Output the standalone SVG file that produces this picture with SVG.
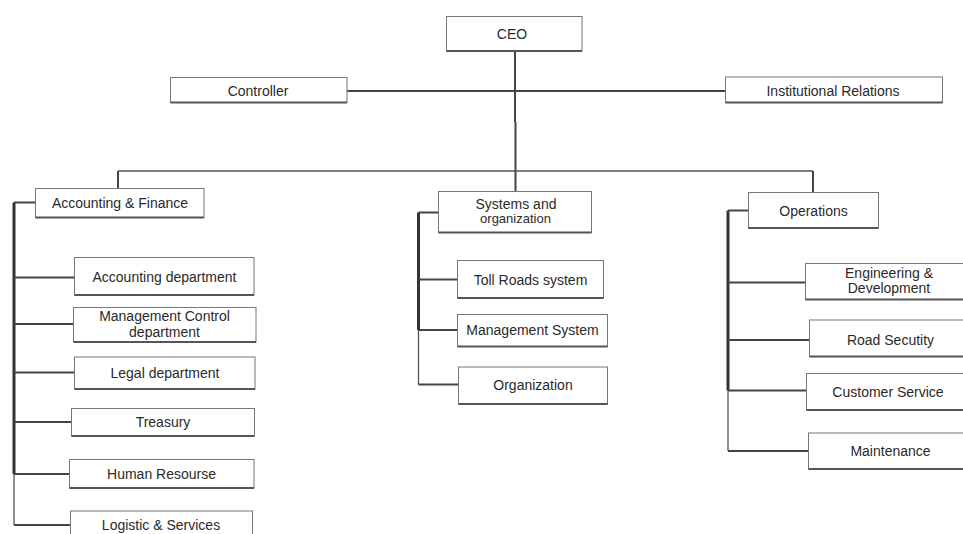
<svg xmlns="http://www.w3.org/2000/svg" width="963" height="534" viewBox="0 0 963 534">
<style>
.box rect{fill:#fff;stroke:#777;stroke-width:1}
.box line{stroke:#555;stroke-width:2}
.box text{font-family:"Liberation Sans",Arial,sans-serif;font-size:14px;fill:#2a2a2a;text-anchor:middle}
.c{stroke:#444;fill:none;stroke-width:2}
.t{stroke:#555;fill:none;stroke-width:1.3}
.b{stroke:#333;fill:none;stroke-width:3}
</style>
<rect width="963" height="534" fill="#fff"/>
<g id="connectors">
<path class="c" d="M515,51V122M515.5,122V171"/>
<path class="c" d="M347,91H725"/>
<path class="t" d="M118,171H813"/>
<path class="c" d="M118,171V188M515.5,171V191M813,171V192"/>
<path class="b" d="M14,202.5V474"/>
<path class="t" d="M14,474V525"/>
<path class="c" d="M14,202.5H35M14,277.5H74M14,324H73M14,372.5H74M14,422H71M14,474H69M14,525H70"/>
<path class="b" d="M418.5,212.5V330"/>
<path class="t" d="M418.5,330V384.5"/>
<path class="c" d="M418.5,212.5H438M418.5,279.5H457M418.5,330H457.5M418.5,384.5H458"/>
<path class="b" d="M728,210.5V390.5"/>
<path class="t" d="M728,390.5V451"/>
<path class="c" d="M728,210.5H748M728,282.5H805M728,340H809M728,390.5H806M728,451H808"/>
</g>
<g id="ceo" class="box"><rect x="446.5" y="16.5" width="135.5" height="34.5"/><line x1="446.5" y1="51" x2="582" y2="51"/><text x="512" y="38.5">CEO</text></g>
<g id="controller" class="box"><rect x="170.5" y="77.5" width="176.5" height="25"/><line x1="170.5" y1="102.5" x2="347" y2="102.5"/><text x="258" y="96">Controller</text></g>
<g id="institutional" class="box"><rect x="725.5" y="77" width="217" height="25.5"/><line x1="725.5" y1="102.5" x2="942.5" y2="102.5"/><text x="833" y="96">Institutional Relations</text></g>
<g id="accounting-finance" class="box"><rect x="35.5" y="188.5" width="168.5" height="29"/><line x1="35.5" y1="217.5" x2="204" y2="217.5"/><text x="120" y="208">Accounting &amp; Finance</text></g>
<g id="accounting-dept" class="box"><rect x="74.5" y="257.5" width="179.5" height="37.5"/><line x1="74.5" y1="295" x2="254" y2="295"/><text x="164.5" y="282">Accounting department</text></g>
<g id="mgmt-control" class="box"><rect x="73.5" y="307.5" width="182.5" height="34.5"/><line x1="73.5" y1="342" x2="256" y2="342"/><text x="164.5" y="320.5">Management Control</text><text x="164.5" y="336.5">department</text></g>
<g id="legal" class="box"><rect x="74.5" y="357" width="180.5" height="32"/><line x1="74.5" y1="389" x2="255" y2="389"/><text x="165" y="377.5">Legal department</text></g>
<g id="treasury" class="box"><rect x="71.5" y="408.5" width="183" height="27.5"/><line x1="71.5" y1="436" x2="254.5" y2="436"/><text x="163" y="427">Treasury</text></g>
<g id="human-resourse" class="box"><rect x="69.5" y="459.5" width="184.5" height="28.5"/><line x1="69.5" y1="488" x2="254" y2="488"/><text x="161.5" y="479">Human Resourse</text></g>
<g id="logistic" class="box"><rect x="70.5" y="511" width="182" height="30"/><text x="161" y="530">Logistic &amp; Services</text></g>
<g id="systems" class="box"><rect x="438.5" y="191.5" width="153" height="41"/><line x1="438.5" y1="232.5" x2="591.5" y2="232.5"/><text x="516" y="209">Systems and</text><text x="515.5" y="223" style="font-size:13px">organization</text></g>
<g id="toll-roads" class="box"><rect x="457.5" y="260.5" width="146" height="37.5"/><line x1="457.5" y1="298" x2="603.5" y2="298"/><text x="530.5" y="284.5">Toll Roads system</text></g>
<g id="mgmt-system" class="box"><rect x="457.5" y="314.5" width="150" height="32"/><line x1="457.5" y1="346.5" x2="607.5" y2="346.5"/><text x="532.5" y="335">Management System</text></g>
<g id="organization" class="box"><rect x="458.5" y="367" width="149" height="37"/><line x1="458.5" y1="404" x2="607.5" y2="404"/><text x="533" y="390">Organization</text></g>
<g id="operations" class="box"><rect x="748.5" y="192.5" width="130" height="35.5"/><line x1="748.5" y1="228" x2="878.5" y2="228"/><text x="813.5" y="216">Operations</text></g>
<g id="engineering" class="box"><rect x="805.5" y="263.5" width="168" height="36"/><line x1="805.5" y1="299.5" x2="973.5" y2="299.5"/><text x="889" y="277.5">Engineering &amp;</text><text x="889" y="292.5">Development</text></g>
<g id="road-secutity" class="box"><rect x="809.5" y="320" width="162" height="36.5"/><line x1="809.5" y1="356.5" x2="971.5" y2="356.5"/><text x="890.5" y="344.5">Road Secutity</text></g>
<g id="customer-service" class="box"><rect x="806.5" y="373.5" width="163" height="36.5"/><line x1="806.5" y1="410" x2="969.5" y2="410"/><text x="888" y="396.5">Customer Service</text></g>
<g id="maintenance" class="box"><rect x="808.5" y="433" width="164" height="36"/><line x1="808.5" y1="469" x2="972.5" y2="469"/><text x="890.5" y="456">Maintenance</text></g>
</svg>
